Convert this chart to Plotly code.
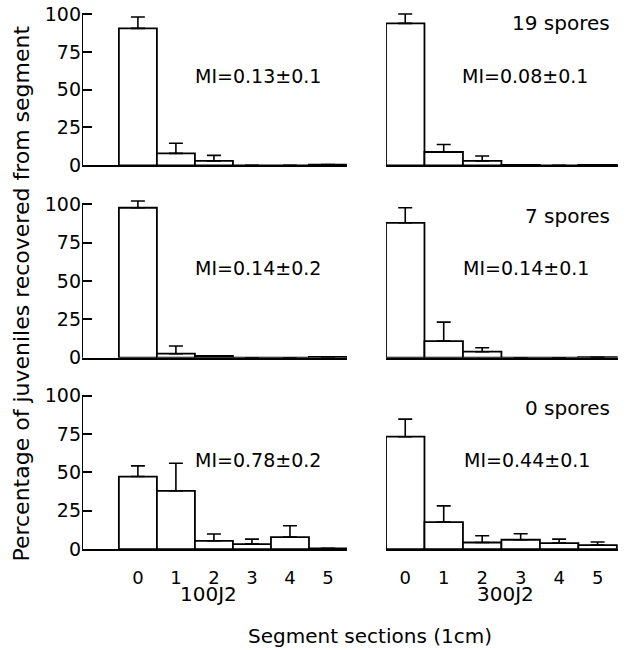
import plotly.graph_objects as go

# ---------------- data ----------------
sections = [0, 1, 2, 3, 4, 5]
section_labels = ["0", "1", "2", "3", "4", "5"]
y_ticks = [0, 25, 50, 75, 100]
y_tick_labels = ["0", "25", "50", "75", "100"]

# 100 J2 inoculum
j100_19sp = [90.5, 7.9, 2.9, 0, 0, 0.5]
j100_19sp_err = [7.5, 6.7, 3.7, None, None, None]
j100_7sp = [97.8, 2.6, 1.2, 0, 0, 0.5]
j100_7sp_err = [4.4, 5.0, None, None, None, None]
j100_0sp = [47.3, 38.0, 5.4, 3.2, 7.8, 0.5]
j100_0sp_err = [7.0, 18.0, 4.4, 3.3, 7.4, None]

# 300 J2 inoculum
j300_19sp = [93.8, 8.8, 2.9, 0.3, 0, 0.3]
j300_19sp_err = [6.2, 5.0, 3.3, None, None, None]
j300_7sp = [88.0, 10.8, 3.9, 0, 0, 0.3]
j300_7sp_err = [9.8, 12.4, 2.6, None, None, None]
j300_0sp = [73.3, 17.6, 4.3, 6.1, 3.9, 2.6]
j300_0sp_err = [11.5, 10.6, 4.4, 3.9, 2.6, 2.0]

mi_labels = ["MI=0.13±0.1", "MI=0.08±0.1", "MI=0.14±0.2",
             "MI=0.14±0.1", "MI=0.78±0.2", "MI=0.44±0.1"]
spore_labels = ["19 spores", "7 spores", "0 spores"]
group_labels = ["100J2", "300J2"]
x_title = "Segment sections (1cm)"
y_title = "Percentage of juveniles recovered from segment"

# ---------------- layout helpers ----------------
W, H = 630, 650
FONT = "DejaVu Sans"
VS = 0.975   # vertical correction of target picture coordinates
VOFF = 5


def px(x):
    return x / W


def py(y):
    fy = (y - VOFF) / VS
    return 1 - fy / H


panels = [
    (j100_19sp, j100_19sp_err), (j300_19sp, j300_19sp_err),
    (j100_7sp, j100_7sp_err), (j300_7sp, j300_7sp_err),
    (j100_0sp, j100_0sp_err), (j300_0sp, j300_0sp_err),
]

# target-pixel geometry of panels
col_x = [(82, 347), (386, 618)]
col_range = [[-1.47, 5.5], [-0.5, 5.53]]
row_base = [166, 358, 549]       # y of value 0
row_top = [15, 205, 396]         # y of value 100

fig = go.Figure()
layout_axes = {}
shapes = []
for i, (vals, errs) in enumerate(panels):
    r, c = divmod(i, 2)
    n = i + 1
    xa = "x" if n == 1 else f"x{n}"
    ya = "y" if n == 1 else f"y{n}"
    fig.add_trace(go.Bar(
        x=sections, y=vals, xaxis=xa, yaxis=ya,
        marker=dict(color="white", line=dict(color="black", width=1.8)),
        width=1.0,
        error_y=dict(type="data", symmetric=False, array=errs,
                     arrayminus=[0] * len(errs), color="black",
                     thickness=1.6, width=7),
        showlegend=False, hoverinfo="skip",
    ))
    p0, p100 = py(row_base[r]), py(row_top[r])
    per_unit = (p100 - p0) / 100
    y_hi = min(p0 + per_unit * 105, 1.0)
    xdom = [px(col_x[c][0]), px(col_x[c][1])]
    ydom = [p0, y_hi]
    ymax_eff = (y_hi - p0) / per_unit
    bottom_row = r == 2
    layout_axes["xaxis" if n == 1 else f"xaxis{n}"] = dict(
        domain=xdom, range=col_range[c], anchor=ya,
        showline=True, linecolor="black", linewidth=2,
        showgrid=False, zeroline=False,
        tickmode="array", tickvals=sections, ticktext=section_labels,
        showticklabels=bottom_row,
        ticks="outside" if bottom_row else "", ticklen=11,
        tickcolor="rgba(0,0,0,0)",
        tickfont=dict(family=FONT, size=18, color="black"),
        fixedrange=True,
    )
    left = c == 0
    layout_axes["yaxis" if n == 1 else f"yaxis{n}"] = dict(
        domain=ydom, range=[0, ymax_eff], anchor=xa,
        showline=False, showgrid=False, zeroline=False,
        tickmode="array", tickvals=y_ticks, ticktext=y_tick_labels,
        showticklabels=left, ticks="inside" if left else "",
        ticklen=10, tickwidth=2, tickcolor="black",
        ticklabeloverflow="allow",
        tickfont=dict(family=FONT, size=19, color="black"),
        fixedrange=True,
    )
    if left:
        shapes.append(dict(type="line", xref=xa, yref=ya,
                           x0=col_range[c][0], x1=col_range[c][0],
                           y0=0, y1=100,
                           line=dict(color="black", width=2)))

annotations = []


def add_text(txt, x, y, size, anchor="center", angle=0):
    annotations.append(dict(text=txt, x=px(x), y=py(y), xref="paper", yref="paper",
                            xanchor=anchor, yanchor="middle", showarrow=False,
                            textangle=angle,
                            font=dict(family=FONT, size=size, color="black")))


mi_pos = [(258, 77), (525, 77), (258, 268), (526, 268), (258, 460), (527, 460)]
for txt, (x, y) in zip(mi_labels, mi_pos):
    add_text(txt, x, y, 19)
for txt, y in zip(spore_labels, [24, 217, 408]):
    add_text(txt, 612, y, 20, anchor="right")
for txt, x in zip(group_labels, [208, 505]):
    add_text(txt, x, 594, 20)
add_text(x_title, 370, 636, 20)
add_text(y_title, 22, 294, 22, angle=-90)

fig.update_layout(
    width=W, height=H,
    margin=dict(l=0, r=0, t=0, b=0),
    paper_bgcolor="white", plot_bgcolor="white",
    bargap=0,
    annotations=annotations, shapes=shapes,
    **layout_axes,
)

fig.write_html("out.html",
               config={"displayModeBar": False, "staticPlot": True},
               post_script="document.body.style.margin='0';"
                           "document.body.style.overflow='hidden';")
